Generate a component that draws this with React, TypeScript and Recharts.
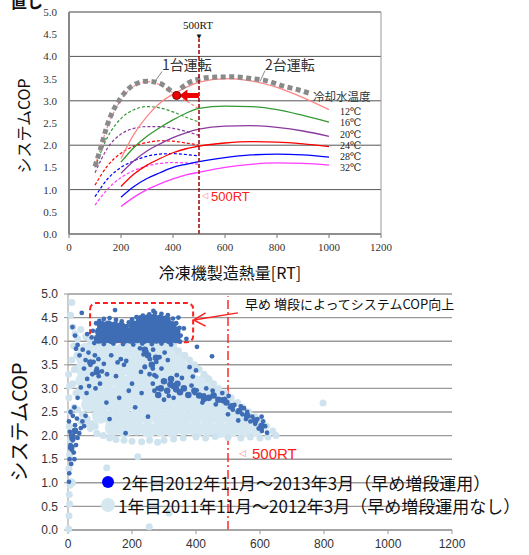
import React from 'react';
import { ComposedChart, Line, Scatter, XAxis, YAxis, CartesianGrid, ReferenceLine, ReferenceDot, ReferenceArea } from 'recharts';

// ---- top chart: COP curves by cooling water temperature ----
const loadOne = [100, 150, 200, 250, 300, 350, 400, 450, 500];
const loadTwo = [200, 250, 300, 350, 400, 450, 500, 600, 700, 800, 900, 1000];
const waterTemps = ['12℃', '16℃', '20℃', '24℃', '28℃', '32℃'];
const curveColors = ['#ff8585', '#339933', '#8a3a9e', '#ff0000', '#0000ff', '#ff3cff'];

const copOne = [
  [1.52, 2.45, 3.02, 3.33, 3.43, 3.36, 3.18, 3.0, 2.82],
  [1.5, 2.2, 2.6, 2.8, 2.87, 2.84, 2.75, 2.63, 2.52],
  [1.38, 1.95, 2.25, 2.38, 2.42, 2.42, 2.38, 2.31, 2.22],
  [1.1, 1.55, 1.82, 1.98, 2.06, 2.1, 2.09, 2.05, 2.0],
  [0.84, 1.25, 1.5, 1.65, 1.75, 1.8, 1.81, 1.79, 1.76],
  [0.65, 1.02, 1.27, 1.43, 1.53, 1.59, 1.61, 1.6, 1.57],
];
const copTwo = [
  [1.7, 2.25, 2.65, 2.95, 3.15, 3.3, 3.42, 3.5, 3.45, 3.3, 3.07, 2.8],
  [1.62, 1.95, 2.2, 2.4, 2.57, 2.72, 2.83, 2.88, 2.87, 2.8, 2.67, 2.52],
  [1.37, 1.65, 1.87, 2.03, 2.17, 2.28, 2.36, 2.43, 2.44, 2.4, 2.32, 2.2],
  [1.07, 1.35, 1.55, 1.7, 1.83, 1.92, 1.98, 2.05, 2.08, 2.07, 2.03, 1.97],
  [0.83, 1.07, 1.25, 1.38, 1.5, 1.57, 1.63, 1.72, 1.78, 1.8, 1.78, 1.73],
  [0.62, 0.83, 1.0, 1.13, 1.24, 1.33, 1.39, 1.5, 1.57, 1.6, 1.59, 1.55],
];
const envOneLoad = [100, 120, 150, 200, 250, 300, 350, 390, 415];
const envOneCop = [1.52, 1.9, 2.5, 3.07, 3.36, 3.44, 3.39, 3.23, 3.12];
const envTwoLoad = [430, 465, 500, 550, 630, 700, 760, 825, 880, 925];
const envTwoCop = [3.28, 3.42, 3.49, 3.53, 3.54, 3.5, 3.45, 3.33, 3.25, 3.17];

const xTicks = [0, 200, 400, 600, 800, 1000, 1200];
const yTicks = [0, 0.5, 1, 1.5, 2, 2.5, 3, 3.5, 4, 4.5, 5];

// ---- bottom chart: measured system COP ----
// 1st year (no early staging), dense core then scattered edge points
const lightCore: [number, number][] = [
  [140, 2.16], [178, 2.13], [214, 2.17], [252, 2.12], [290, 2.15], [326, 2.14], [364, 2.17], [402, 2.13], [438, 2.16], [476, 2.12], [514, 2.15], [552, 2.13], [588, 2.15],
  [100, 2.42], [136, 2.38], [172, 2.41], [210, 2.37], [246, 2.42], [284, 2.39], [322, 2.41], [358, 2.38], [396, 2.42], [434, 2.39], [470, 2.41], [508, 2.38], [545, 2.4],
  [66, 2.66], [102, 2.63], [140, 2.67], [176, 2.64], [214, 2.66], [250, 2.62], [288, 2.67], [326, 2.64], [362, 2.66], [400, 2.63], [438, 2.66], [474, 2.63], [505, 2.62],
  [50, 2.92], [86, 2.88], [124, 2.91], [160, 2.89], [198, 2.92], [236, 2.88], [272, 2.91], [310, 2.89], [348, 2.92], [386, 2.88], [424, 2.9], [462, 2.88],
  [48, 3.16], [88, 3.13], [126, 3.17], [164, 3.14], [202, 3.16], [238, 3.13], [276, 3.17], [314, 3.14], [352, 3.16], [390, 3.13], [428, 3.14],
  [48, 3.42], [86, 3.38], [122, 3.41], [160, 3.39], [196, 3.42], [234, 3.38], [270, 3.41], [306, 3.39], [342, 3.41], [376, 3.38],
  [50, 3.63], [88, 3.6], [126, 3.64], [162, 3.61], [200, 3.63], [236, 3.6], [272, 3.63], [310, 3.61], [346, 3.62],
  [56, 3.8], [94, 3.79], [132, 3.81], [168, 3.78], [206, 3.8], [242, 3.79], [278, 3.81], [312, 3.78],
];
const lightEdge: [number, number][] = [
  [2, 0.02], [3, 0.3], [5, 0.55], [4, 0.75], [6, 0.95], [10, 1.02], [14, 1.0], [3, 1.3], [5, 1.6], [8, 1.9], [4, 2.2], [6, 2.5], [3, 2.8], [5, 3.05], [2, 3.3],
  [12, 4.82], [8, 4.55], [15, 4.3], [22, 4.15], [30, 4.05], [40, 4.25], [55, 4.1], [18, 3.9], [28, 3.7], [12, 3.6], [20, 3.4], [15, 3.1], [25, 2.9], [20, 2.6],
  [30, 2.55], [45, 2.45], [60, 2.35], [75, 2.25], [85, 2.2], [40, 2.3], [55, 2.25], [70, 2.15], [90, 2.05], [110, 2.0], [130, 1.95], [150, 1.92], [175, 1.9],
  [200, 1.88], [230, 1.87], [255, 1.9], [280, 1.86], [300, 1.9], [330, 1.93], [360, 1.95], [400, 1.97], [430, 1.95], [460, 1.98], [500, 1.96], [540, 1.95],
  [570, 1.97], [600, 1.95], [625, 1.97], [650, 2.0], [640, 2.1], [620, 2.2], [600, 2.3], [585, 2.4], [565, 2.5], [545, 2.6], [530, 2.7], [510, 2.8], [490, 2.9],
  [470, 3.0], [455, 3.1], [440, 3.2], [425, 3.3], [410, 3.4], [395, 3.5], [380, 3.6], [365, 3.7], [345, 3.8], [330, 3.9], [300, 3.98], [260, 3.97], [220, 3.99],
  [180, 3.96], [140, 3.98], [100, 3.97], [70, 4.0],
  [121, 1.32], [218, 1.55], [254, 0.07], [316, 0.36], [797, 2.69],
];
// 2nd year (early staging): dense cluster inside the dashed box
const darkCore: [number, number][] = [
  [96, 4.05], [116, 4.06], [136, 4.04], [156, 4.06], [176, 4.05], [100, 4.2], [120, 4.19], [140, 4.21], [160, 4.2], [180, 4.18], [106, 4.32], [126, 4.33], [146, 4.31], [166, 4.3],
  [196, 4.05], [216, 4.06], [236, 4.04], [256, 4.06], [276, 4.05], [296, 4.06], [316, 4.04], [336, 4.06],
  [198, 4.2], [218, 4.19], [238, 4.21], [258, 4.2], [278, 4.2], [298, 4.21], [318, 4.19], [336, 4.2],
  [206, 4.33], [226, 4.35], [246, 4.34], [266, 4.36], [286, 4.35], [306, 4.34], [324, 4.32],
  [228, 4.45], [248, 4.46], [268, 4.47], [288, 4.46], [306, 4.44],
];
// 2nd year: medium-density band below the box
const darkMid: [number, number][] = [
  [290, 3.0], [310, 2.95], [330, 3.05], [350, 2.92], [300, 3.15], [322, 3.2], [342, 3.1], [362, 3.0], [282, 2.86], [376, 2.86],
  [410, 2.85], [440, 2.8], [470, 2.76], [495, 2.7], [250, 3.7], [262, 3.5], [70, 3.55], [90, 3.35], [320, 3.08], [338, 2.98],
  [395, 2.95], [425, 2.78], [455, 2.85], [485, 2.75], [512, 2.62], [535, 2.52], [560, 2.42], [585, 2.32], [605, 2.2], [240, 3.82],
  [275, 3.65], [14, 1.95], [22, 2.1], [10, 1.75],
];
const darkEdge: [number, number][] = [
  [78, 4.22], [74, 4.08], [82, 3.96], [88, 4.38], [98, 4.43], [112, 4.47], [130, 4.49], [150, 4.45], [168, 4.42], [184, 4.32], [190, 4.4], [200, 4.46],
  [214, 4.51], [234, 4.54], [254, 4.57], [272, 4.6], [292, 4.58], [312, 4.55], [328, 4.48], [338, 4.38], [348, 4.28], [352, 4.12], [350, 3.99],
  [112, 3.94], [142, 3.95], [172, 3.94], [204, 3.93], [232, 3.95], [262, 3.94], [292, 3.95], [322, 3.93],
  [43, 4.6], [147, 4.66], [267, 4.64], [345, 4.5], [362, 4.27], [403, 3.88], [450, 3.68], [14, 4.3], [22, 4.12], [30, 3.92], [60, 4.15], [370, 4.05],
  [25, 3.84], [36, 3.7], [46, 3.82], [55, 3.6], [64, 3.76], [70, 3.5], [80, 3.56], [90, 3.42], [76, 3.3], [96, 3.26], [106, 3.36], [100, 3.1], [86, 3.0],
  [60, 3.2], [50, 3.42], [40, 3.02], [30, 2.8], [20, 2.6], [15, 2.42], [112, 3.52], [122, 3.3], [66, 3.05], [84, 3.7], [95, 3.62], [58, 2.9],
  [3, 2.3], [6, 2.08], [10, 2.0], [15, 1.9], [8, 1.8], [12, 1.7], [18, 1.64], [25, 1.8], [30, 1.95], [35, 2.05], [40, 2.16], [22, 2.22], [5, 1.5],
  [10, 1.4], [4, 1.2], [3, 1.02], [28, 2.36], [45, 2.3], [50, 2.2], [55, 2.42], [16, 2.0], [20, 1.5], [8, 2.5],
  [130, 2.35], [160, 2.8], [180, 2.05], [150, 3.26], [200, 3.1], [210, 2.6], [175, 3.5], [230, 2.9], [250, 2.4], [120, 2.7], [190, 2.95], [135, 3.7],
  [155, 3.55], [165, 3.62], [182, 3.58], [228, 3.35], [240, 3.45], [255, 3.3], [265, 3.42],
  [225, 3.85], [236, 3.72], [245, 3.78], [256, 3.62], [266, 3.82], [276, 3.56], [286, 3.66], [240, 3.46], [292, 3.42], [302, 3.76], [312, 3.6], [270, 3.28],
  [265, 3.1], [276, 3.25], [300, 2.76], [330, 2.8], [356, 3.22], [386, 3.06], [396, 2.9], [280, 3.0], [270, 2.95], [340, 3.28], [315, 2.84], [380, 3.45],
  [400, 3.38], [390, 3.25],
  [402, 2.96], [420, 2.7], [452, 2.95], [462, 2.66], [482, 2.9], [502, 2.84], [432, 3.0], [506, 2.6], [425, 2.85], [490, 2.78],
  [515, 2.55], [530, 2.5], [545, 2.45], [556, 2.35], [570, 2.3], [585, 2.25], [596, 2.15], [606, 2.1], [616, 2.2], [622, 2.06], [520, 2.65], [540, 2.62],
  [560, 2.5], [576, 2.4], [592, 2.35], [500, 2.45], [532, 2.32], [610, 2.3], [605, 2.4], [550, 2.58],
];

const sans = '"Noto Sans CJK JP", "Noto Sans", sans-serif';
const serif = '"Liberation Serif", "DejaVu Serif", serif';
const latin = '"Liberation Sans", Arial, sans-serif';

const toPts = (xs: number[], ys: number[]) => xs.map((x, i) => ({ x, y: ys[i] }));
const pairs = (arr: [number, number][]) => arr.map(([x, y]) => ({ x, y }));

const dot = (r: number, fill: string) => (p: any) => <circle cx={p.cx} cy={p.cy} r={r} fill={fill} />;

const Txt = ({ x, y, children, style }: any) => (
  <div style={{ position: 'absolute', left: x, top: y, transform: 'translateY(-50%)', whiteSpace: 'nowrap', lineHeight: 1, ...style }}>{children}</div>
);

const VTxt = ({ x, y, size, children }: any) => (
  <div style={{ position: 'absolute', left: x, top: y, transform: 'translate(-50%,-50%) rotate(-90deg)', whiteSpace: 'nowrap', lineHeight: 1, fontFamily: sans, fontSize: size, color: '#111' }}>{children}</div>
);

export default function App() {
  const fmt = (v: number) => v.toFixed(1);
  return (
    <div style={{ position: 'absolute', left: 0, top: 0, width: 529, height: 555, background: '#fff', overflow: 'hidden' }}>
      {/* top chart */}
      <div style={{ position: 'absolute', left: 0, top: 0 }}>
        <ComposedChart width={529} height={262} margin={{ top: 12, right: 148, bottom: 8, left: 29 }}>
          <CartesianGrid vertical={false} stroke="#555" strokeWidth={1} />
          <XAxis type="number" dataKey="x" domain={[0, 1200]} ticks={xTicks} height={20} tickSize={4} tickMargin={5}
            stroke="#777" tick={{ fill: '#333', fontSize: 11, fontFamily: serif }} />
          <YAxis type="number" dataKey="y" domain={[0, 5]} ticks={yTicks} width={40} tickSize={0} tickMargin={12}
            tickFormatter={fmt} stroke="#888" strokeWidth={2} tick={{ fill: '#333', fontSize: 11, fontFamily: serif }} />
          <ReferenceLine x={1200} stroke="#999" />
          <ReferenceLine y={5} stroke="#999" />
          {copOne.map((vals, i) => (
            <Line key={'one' + i} data={toPts(loadOne, vals)} dataKey="y" type="monotone" dot={false} stroke={curveColors[i]}
              strokeWidth={1.2} strokeDasharray="3 2" isAnimationActive={false} />
          ))}
          {copTwo.map((vals, i) => (
            <Line key={'two' + i} data={toPts(loadTwo, vals)} dataKey="y" type="monotone" dot={false} stroke={curveColors[i]}
              strokeWidth={1.3} isAnimationActive={false} />
          ))}
          <Line data={toPts(envOneLoad, envOneCop)} dataKey="y" type="monotone" dot={false} stroke="#8a8a8a" strokeWidth={5}
            strokeDasharray="5 3.5" isAnimationActive={false} />
          <Line data={toPts(envTwoLoad, envTwoCop)} dataKey="y" type="monotone" dot={false} stroke="#8a8a8a" strokeWidth={5}
            strokeDasharray="5 3.5" isAnimationActive={false} />
          <ReferenceLine segment={[{ x: 500, y: 0 }, { x: 500, y: 4.4 }]} stroke="#a00000" strokeWidth={1.5} strokeDasharray="4 2" />
          <ReferenceLine segment={[{ x: 358, y: 3.66 }, { x: 331, y: 3.44 }]} stroke="#888" />
          <ReferenceLine segment={[{ x: 754, y: 3.68 }, { x: 735, y: 3.44 }]} stroke="#888" />
          <ReferenceLine segment={[{ x: 452, y: 3.12 }, { x: 500, y: 3.12 }]} stroke="#ee0000" strokeWidth={5} />
          <ReferenceDot x={440} y={3.12} r={5} shape={(p: any) => (
            <polygon points={`${p.cx - 4},${p.cy} ${p.cx + 4},${p.cy - 6} ${p.cx + 4},${p.cy + 6}`} fill="#ee0000" />
          )} />
          <ReferenceDot x={414} y={3.12} r={4} fill="#ee0000" stroke="#700" strokeWidth={1} />
        </ComposedChart>
      </div>

      <Txt x={11} y={1} style={{ fontFamily: sans, fontSize: 16, fontWeight: 'bold', color: '#111' }}>直し</Txt>
      <Txt x={183} y={25} style={{ fontFamily: serif, fontSize: 11, color: '#111' }}>500RT</Txt>
      <Txt x={195} y={37} style={{ fontSize: 8, color: '#111' }}>▼</Txt>
      <Txt x={162} y={64} style={{ fontFamily: sans, fontSize: 14, color: '#333' }}>1台運転</Txt>
      <Txt x={265} y={64} style={{ fontFamily: sans, fontSize: 14, color: '#333' }}>2台運転</Txt>
      <Txt x={313} y={97} style={{ fontFamily: sans, fontSize: 11.5, color: '#333' }}>冷却水温度</Txt>
      {waterTemps.map((t, i) => (
        <Txt key={t} x={340} y={[112, 123, 135, 146, 157, 168][i]} style={{ fontFamily: serif, fontSize: 10, color: '#222' }}>{t}</Txt>
      ))}
      <Txt x={202} y={196} style={{ fontSize: 8, color: '#ff8080' }}>◁</Txt>
      <Txt x={211} y={196} style={{ fontFamily: latin, fontSize: 13, color: '#ff2020' }}>500RT</Txt>
      <VTxt x={23} y={126} size={16}>システムCOP</VTxt>
      <Txt x={230} y={272} style={{ fontFamily: sans, fontSize: 16, color: '#111', transform: 'translate(-50%,-50%)' }}>冷凍機製造熱量[RT]</Txt>

      {/* bottom chart */}
      <div style={{ position: 'absolute', left: 0, top: 280 }}>
        <ComposedChart width={529} height={275} margin={{ top: 14, right: 77, bottom: 5, left: 28 }}>
          <CartesianGrid vertical={false} stroke="#9a9a9a" strokeWidth={1.4} />
          <XAxis type="number" dataKey="x" domain={[0, 1200]} ticks={xTicks} height={20} tickSize={4} tickMargin={5}
            stroke="#999" tick={{ fill: '#333', fontSize: 12, fontFamily: latin }} />
          <YAxis type="number" dataKey="y" domain={[0, 5]} ticks={yTicks} width={40} tickSize={4} tickMargin={6}
            tickFormatter={fmt} stroke="#999" tick={{ fill: '#333', fontSize: 12, fontFamily: latin }} />
          <Scatter data={pairs(lightCore)} shape={dot(8, '#d5e8f1')} isAnimationActive={false} />
          <Scatter data={pairs(lightEdge)} shape={dot(3.5, '#cfe3ee')} isAnimationActive={false} />
          <Scatter data={pairs(darkCore)} shape={dot(5, '#3e6db5')} isAnimationActive={false} />
          <Scatter data={pairs(darkMid)} shape={dot(3.3, '#3e6db5')} isAnimationActive={false} />
          <Scatter data={pairs(darkEdge)} shape={dot(2.4, '#3e6db5')} isAnimationActive={false} />
          <ReferenceLine segment={[{ x: 500, y: 0 }, { x: 500, y: 4.95 }]} stroke="#ff2a2a" strokeWidth={1.5} strokeDasharray="9 3 2 3" />
          <ReferenceArea x1={69} x2={391} y1={3.98} y2={4.81} fill="none" stroke="#ff2020" strokeWidth={2} strokeDasharray="5 3" radius={6} />
          <ReferenceLine segment={[{ x: 531, y: 4.6 }, { x: 393, y: 4.45 }]} stroke="#ff2020" strokeWidth={1.5} />
          <ReferenceLine segment={[{ x: 393, y: 4.45 }, { x: 430, y: 4.6 }]} stroke="#ff2020" strokeWidth={1.5} />
          <ReferenceLine segment={[{ x: 393, y: 4.45 }, { x: 430, y: 4.32 }]} stroke="#ff2020" strokeWidth={1.5} />
        </ComposedChart>
      </div>

      <Txt x={245} y={303} style={{ fontFamily: sans, fontSize: 13, color: '#111' }}>早め 増段によってシステムCOP向上</Txt>
      <Txt x={239} y={453} style={{ fontSize: 9, color: '#ff8080' }}>◁</Txt>
      <Txt x={252} y={453} style={{ fontFamily: latin, fontSize: 15, color: '#ff1a1a' }}>500RT</Txt>
      <div style={{ position: 'absolute', left: 102, top: 476, width: 12, height: 12, borderRadius: 6, background: '#0000ff' }} />
      <Txt x={122} y={482} style={{ fontFamily: sans, fontSize: 17, color: '#111' }}>2年目2012年11月～2013年3月（早め増段運用）</Txt>
      <div style={{ position: 'absolute', left: 101, top: 498, width: 14, height: 14, borderRadius: 7, background: '#d5e8f0' }} />
      <Txt x={118} y={505} style={{ fontFamily: sans, fontSize: 17, color: '#111' }}>1年目2011年11月～2012年3月（早め増段運用なし）</Txt>
      <VTxt x={19} y={422} size={20}>システムCOP</VTxt>
    </div>
  );
}
